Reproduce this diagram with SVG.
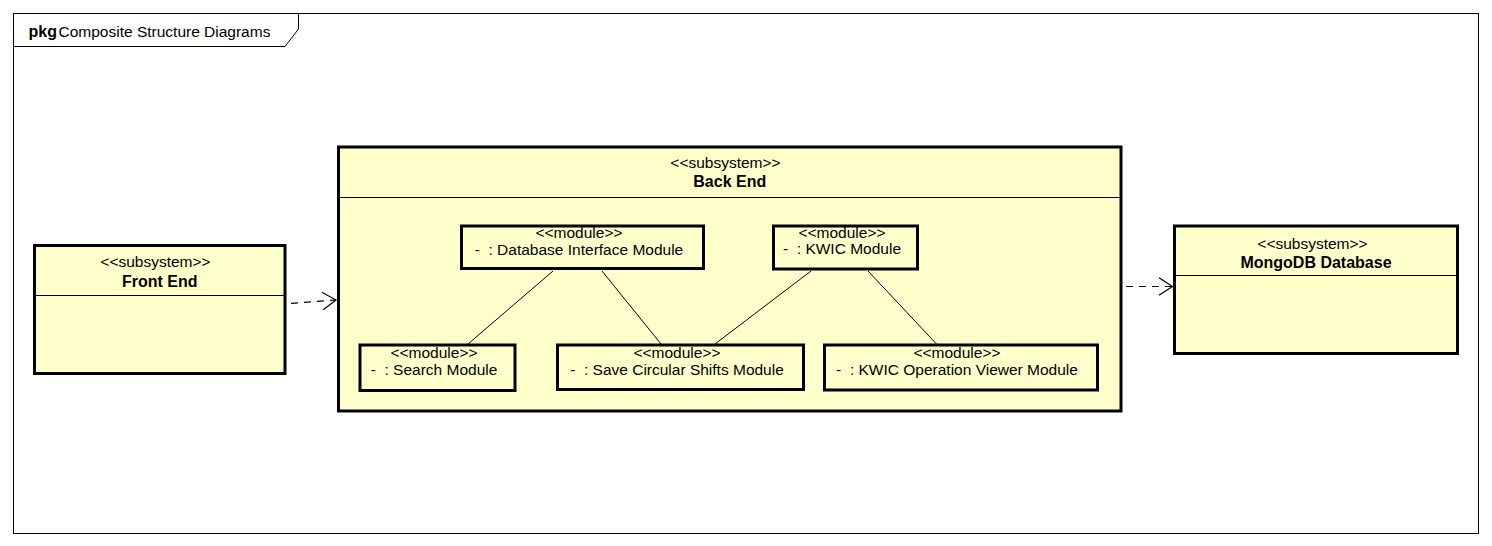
<svg xmlns="http://www.w3.org/2000/svg" width="1492" height="546" viewBox="0 0 1492 546">
  <style>
    text { font-family: "Liberation Sans", Arial, sans-serif; font-size: 15.5px; fill: #000; white-space: pre; }
    .b { font-weight: bold; font-size: 16px; }
    .c { text-anchor: middle; }
    .box { fill: #ffffcc; stroke: #000; stroke-width: 3; }
    .sep { stroke: #000; stroke-width: 1; fill: none; }
    .frame { fill: #fff; stroke: #000; stroke-width: 1; }
    .link { stroke: #000; stroke-width: 1; fill: none; }
    .dep { stroke: #000; stroke-width: 1.2; fill: none; stroke-dasharray: 7 6; marker-end: url(#open); }
  </style>
  <defs>
    <marker id="open" markerUnits="userSpaceOnUse" viewBox="-16 -11 18 22" markerWidth="18" markerHeight="22" refX="0" refY="0" orient="auto">
      <path d="M-13.5,-8.8 L0,0 L-13.5,8.8" fill="none" stroke="#000" stroke-width="1.2" stroke-dasharray="none"/>
    </marker>
  </defs>
  <rect width="1492" height="546" fill="#fff"/>

  <g id="frame">
    <rect class="frame" x="13.5" y="13.5" width="1465" height="520"/>
    <path class="sep" d="M13.5,46.5 H285 L298.5,29 V13.5"/>
    <text x="28.5" y="37"><tspan class="b">pkg</tspan><tspan x="58.5">Composite Structure Diagrams</tspan></text>
  </g>

  <g id="front-end">
    <rect class="box" x="34.5" y="245.5" width="250.5" height="128"/>
    <line class="sep" x1="34.5" y1="295.5" x2="285" y2="295.5"/>
    <text class="c" x="155.5" y="266.5">&lt;&lt;subsystem&gt;&gt;</text>
    <text class="c b" x="159.75" y="286.5">Front End</text>
  </g>

  <g id="back-end">
    <rect class="box" x="338.5" y="147" width="782.5" height="264"/>
    <line class="sep" x1="338.5" y1="197.5" x2="1121" y2="197.5"/>
    <text class="c" x="725.5" y="168">&lt;&lt;subsystem&gt;&gt;</text>
    <text class="c b" x="729.75" y="187">Back End</text>
  </g>

  <g id="mongodb-database">
    <rect class="box" x="1174.5" y="226" width="283" height="127.5"/>
    <line class="sep" x1="1174.5" y1="275.5" x2="1457.5" y2="275.5"/>
    <text class="c" x="1312.5" y="248.5">&lt;&lt;subsystem&gt;&gt;</text>
    <text class="c b" x="1316" y="267.5">MongoDB Database</text>
  </g>

  <g id="database-interface-module">
    <rect class="box" x="461.5" y="226" width="242" height="42.5"/>
    <text class="c" x="579" y="238">&lt;&lt;module&gt;&gt;</text>
    <text class="c" x="579" y="254.5">-  : Database Interface Module</text>
  </g>

  <g id="kwic-module">
    <rect class="box" x="773.5" y="226" width="144" height="43"/>
    <text class="c" x="842" y="237.5">&lt;&lt;module&gt;&gt;</text>
    <text class="c" x="842" y="254">-  : KWIC Module</text>
  </g>

  <g id="search-module">
    <rect class="box" x="360" y="345" width="155" height="45.5"/>
    <text class="c" x="434" y="357.5">&lt;&lt;module&gt;&gt;</text>
    <text class="c" x="434" y="374.5">-  : Search Module</text>
  </g>

  <g id="save-circular-shifts-module">
    <rect class="box" x="557.5" y="345" width="246" height="44.5"/>
    <text class="c" x="677" y="357.5">&lt;&lt;module&gt;&gt;</text>
    <text class="c" x="677" y="374.5">-  : Save Circular Shifts Module</text>
  </g>

  <g id="kwic-operation-viewer-module">
    <rect class="box" x="824.5" y="345" width="273" height="45"/>
    <text class="c" x="957" y="357.5">&lt;&lt;module&gt;&gt;</text>
    <text class="c" x="957" y="374.5">-  : KWIC Operation Viewer Module</text>
  </g>

  <g id="connectors">
    <line class="link" x1="553" y1="271" x2="468" y2="344"/>
    <line class="link" x1="602" y1="271" x2="661" y2="344"/>
    <line class="link" x1="811" y1="271" x2="715" y2="344"/>
    <line class="link" x1="868" y1="271" x2="936.5" y2="344"/>
    <path class="dep" d="M291,303.3 L336,300"/>
    <path class="dep" d="M1126,286.5 L1172.5,286.5"/>
  </g>
</svg>
